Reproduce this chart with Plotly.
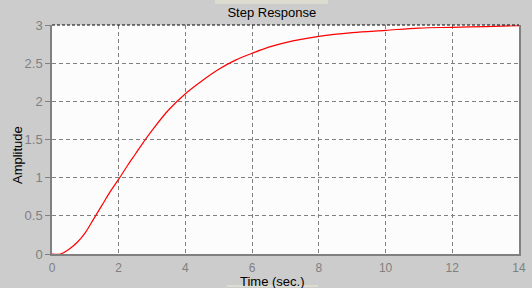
import plotly.graph_objects as go

# Step response samples
t = [0, 0.25, 0.5, 0.75, 1.0, 1.25, 1.5, 1.75, 2.0, 2.25, 2.5, 2.75, 3.0, 3.5, 4.0,
     4.5, 5.0, 5.5, 6.0, 6.5, 7.0, 8.0, 9.0, 10.0, 11.0, 12.0, 13.0, 14.0]
amp = [0, 0.0, 0.06, 0.15, 0.28, 0.46, 0.64, 0.82, 0.98, 1.15, 1.31, 1.47, 1.62, 1.89, 2.10,
       2.27, 2.42, 2.54, 2.63, 2.71, 2.77, 2.85, 2.90, 2.93, 2.96, 2.97, 2.98, 2.99]
x_ticks = [0, 2, 4, 6, 8, 10, 12, 14]
y_ticks = [0, 0.5, 1, 1.5, 2, 2.5, 3]
y_tick_text = ["0", "0.5", "1", "1.5", "2", "2.5", "3"]

fig = go.Figure()
fig.add_trace(go.Scatter(x=t, y=amp, mode="lines", line=dict(color="#ff0000", width=1.2, shape="spline"),
                         hoverinfo="skip", showlegend=False))

grid = "#808080"
fig.update_layout(
    width=532, height=288,
    margin=dict(l=52, r=13, t=25, b=34),
    paper_bgcolor="#cccccc",
    plot_bgcolor="#fcfcfc",
    font=dict(family="Liberation Sans, Arial, sans-serif", size=13, color="#000000"),
    title=dict(text="Step Response", x=0.511, xanchor="center", y=0.958, yanchor="middle",
               font=dict(size=13, color="#000000"), automargin=False),
    xaxis=dict(range=[0, 14], tickvals=x_ticks, showgrid=True, gridcolor=grid, griddash="4px,3px",
               gridwidth=1, showline=True, linecolor=grid, linewidth=1.5, ticks="", zeroline=False,
               tickfont=dict(color=grid, size=12), ticklabelstandoff=2, automargin=False),
    yaxis=dict(range=[0, 3], tickvals=y_ticks, ticktext=y_tick_text, showgrid=True, gridcolor=grid,
               griddash="4px,3px", gridwidth=1, showline=True, linecolor=grid, linewidth=1.5, mirror=True,
               ticks="outside", ticklen=5, tickcolor=grid, zeroline=False, automargin=False,
               tickfont=dict(color=grid, size=13), ticklabelstandoff=0),
)
fig.add_annotation(text="Amplitude", xref="paper", yref="paper", x=-(52-17)/467, y=(254-155)/229,
                   xanchor="center", yanchor="middle", textangle=-90, showarrow=False,
                   font=dict(size=13, color="#000000"))
fig.add_annotation(text="Time (sec.)", xref="paper", yref="paper", x=(272-52)/467, y=-(281-254)/229,
                   xanchor="center", yanchor="middle", showarrow=False,
                   font=dict(size=13, color="#000000"))
# dashed black top border
fig.add_shape(type="line", xref="paper", yref="paper", x0=0, x1=1, y0=1, y1=1,
              line=dict(color="#000000", width=1.2, dash="3px,2px"))
# light strips near title / xlabel
fig.add_shape(type="rect", xref="paper", yref="paper", x0=(215-52)/467, x1=(328-52)/467,
              y0=1 + 21/229, y1=1 + 25/229, line=dict(width=0), fillcolor="#dcdcd0", layer="below")
fig.add_shape(type="rect", xref="paper", yref="paper", x0=(227-52)/467, x1=(318-52)/467,
              y0=-33/229, y1=-31/229, line=dict(width=0), fillcolor="#dcdcd0", layer="below")

fig.write_html("out.html")
